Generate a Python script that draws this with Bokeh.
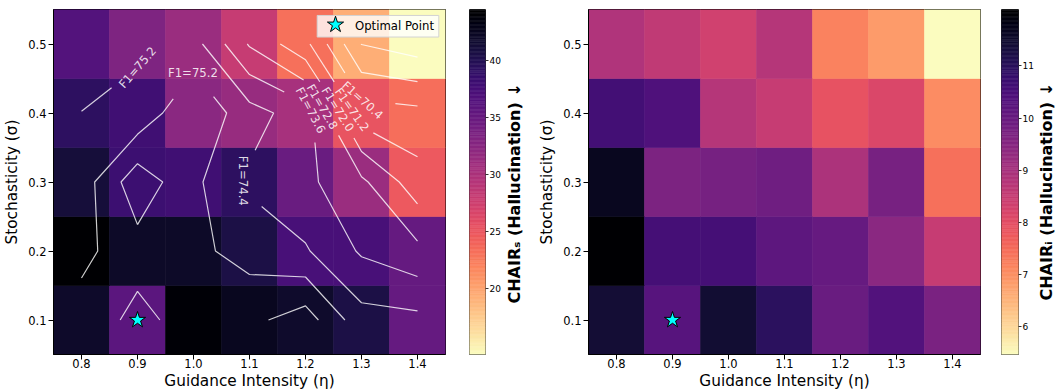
import math
import numpy as np
from bokeh.plotting import figure
from bokeh.layouts import row
from bokeh.models import (ColumnDataSource, LinearColorMapper, FixedTicker,
                          PrintfTickFormatter, Range1d)
from bokeh.palettes import Magma256
from bokeh.transform import transform
from bokeh.core.properties import value
from bokeh.embed import file_html
from bokeh.resources import INLINE

FONT = "DejaVu Sans"

# ---------------- data ----------------
eta = [0.8, 0.9, 1.0, 1.1, 1.2, 1.3, 1.4]          # guidance intensity
sigma = [0.1, 0.2, 0.3, 0.4, 0.5]                  # stochasticity

# rows: sigma 0.1 .. 0.5 ; columns: eta 0.8 .. 1.4
chair_s = [
    [42.1, 36.0, 44.2, 42.7, 41.9, 40.6, 35.3],
    [44.5, 42.2, 42.2, 40.6, 37.5, 37.5, 35.3],
    [41.2, 38.3, 38.0, 39.3, 35.0, 31.3, 24.8],
    [39.3, 38.0, 32.5, 31.5, 30.4, 25.3, 23.4],
    [36.6, 33.4, 31.3, 28.1, 23.3, 19.4, 14.2],
]
chair_i = [
    [11.42, 10.30, 11.45, 10.99, 10.00, 10.39, 9.73],
    [12.08, 10.59, 10.59, 10.20, 10.06, 9.47, 8.51],
    [11.68, 9.70, 9.80, 9.90, 8.91, 9.77, 7.45],
    [10.63, 10.43, 8.78, 8.51, 7.92, 8.18, 7.06],
    [8.87, 8.61, 8.35, 8.78, 7.19, 6.86, 5.47],
]
f1 = [
    [75.51, 76.22, 75.67, 75.80, 76.39, 74.70, 74.61],
    [75.00, 75.69, 75.40, 74.89, 74.48, 73.50, 73.01],
    [74.80, 76.50, 75.39, 74.27, 73.79, 72.97, 71.53],
    [75.19, 74.62, 75.91, 74.71, 73.99, 70.77, 70.63],
    [75.60, 75.50, 74.72, 72.72, 71.41, 68.785, 68.37],
]
f1_levels = [68.8, 69.6, 70.4, 71.2, 72.0, 72.8, 73.6, 74.4, 75.2, 76.0]
# labelled contours: level, approx eta, approx sigma, text angle (deg)
f1_labels = [
    (75.2, 0.900, 0.466, 49),
    (75.2, 1.000, 0.458, 0),
    (74.4, 1.088, 0.302, -90),
    (73.6, 1.209, 0.404, -62),
    (72.8, 1.232, 0.410, -60),
    (72.0, 1.257, 0.405, -58),
    (71.2, 1.283, 0.405, -55),
    (70.4, 1.302, 0.419, -42),
]
optimal_eta = [0.9]
optimal_sigma = [0.1]
legend_label = "Optimal Point"
cb_title_s = "CHAIR\u209b (Hallucination) \u2193"
cb_title_i = "CHAIR\u1d62 (Hallucination) \u2193"
cb_ticks_s = [20, 25, 30, 35, 40]
cb_ticks_i = [6, 7, 8, 9, 10, 11]

# ---------------- layout ----------------
H = 392
TOP, BOTTOM = 9, 36
FRAME_H = H - TOP - BOTTOM      # 347
FRAME_W = 392
LEFT = 53
X0, X1 = 0.75, 1.45
Y0, Y1 = 0.05, 0.55
SX = FRAME_W / (X1 - X0)
SY = FRAME_H / (Y1 - Y0)
PAL = list(Magma256[::-1])
TICK_FS = "11.5px"
CB_FS = "9px"
LAB_FS = "16px"


def px2data(px, py):
    """pixel offsets from the frame's top-left corner -> data coordinates"""
    return X0 + px / SX, Y1 - py / SY


def style_axis(ax, label_size=TICK_FS):
    ax.major_tick_out = 5
    ax.major_tick_in = 0
    ax.minor_tick_out = 0
    ax.minor_tick_in = 0
    ax.major_tick_line_color = "black"
    ax.axis_line_color = "black"
    ax.major_label_text_font = FONT
    ax.major_label_text_font_size = label_size
    ax.major_label_text_color = "black"
    ax.axis_label_text_font = FONT
    ax.axis_label_text_font_size = "15.3px"
    ax.axis_label_text_font_style = "normal"
    ax.axis_label_text_color = "black"


def heatmap(vals, right_border):
    vmin = min(min(r) for r in vals)
    vmax = max(max(r) for r in vals)
    mapper = LinearColorMapper(palette=PAL, low=vmin, high=vmax)
    xs, ys, zs = [], [], []
    for j, s in enumerate(sigma):
        for i, e in enumerate(eta):
            xs.append(e)
            ys.append(s)
            zs.append(vals[j][i])
    src = ColumnDataSource(dict(x=xs, y=ys, z=zs))
    p = figure(width=LEFT + FRAME_W + right_border, height=H,
               x_range=Range1d(X0, X1), y_range=Range1d(Y0, Y1),
               min_border_left=LEFT, min_border_right=right_border,
               min_border_top=TOP, min_border_bottom=BOTTOM,
               toolbar_location=None, output_backend="svg")
    dx = eta[1] - eta[0]
    dy = sigma[1] - sigma[0]
    p.rect(x="x", y="y", width=dx, height=dy, source=src,
           fill_color=transform("z", mapper), line_color=transform("z", mapper),
           line_width=0.6)
    p.grid.visible = False
    p.outline_line_color = "black"
    p.outline_line_width = 1
    p.xaxis.ticker = FixedTicker(ticks=eta)
    p.yaxis.ticker = FixedTicker(ticks=sigma)
    p.xaxis.formatter = PrintfTickFormatter(format="%.1f")
    p.yaxis.formatter = PrintfTickFormatter(format="%.1f")
    style_axis(p.xaxis[0])
    style_axis(p.yaxis[0])
    p.xaxis.major_label_standoff = -1
    p.xaxis.axis_label_standoff = 1
    p.yaxis.major_label_standoff = 2
    p.yaxis.axis_label_standoff = 4
    p.xaxis.axis_label = "Guidance Intensity (\u03b7)"
    p.yaxis.axis_label = "Stochasticity (\u03c3)"
    return p, vmin, vmax


def colorbar(vmin, vmax, ticks, left_border, right_border):
    p = figure(width=left_border + 18 + right_border, height=H,
               x_range=Range1d(0, 1), y_range=Range1d(vmin, vmax),
               min_border_left=left_border, min_border_right=right_border,
               min_border_top=TOP, min_border_bottom=BOTTOM,
               x_axis_location=None, y_axis_location="right",
               toolbar_location=None, output_backend="svg")
    edges = np.linspace(vmin, vmax, len(PAL) + 1)
    p.quad(left=0, right=1, bottom=edges[:-1], top=edges[1:],
           fill_color=PAL, line_color=PAL, line_width=0.6)
    p.grid.visible = False
    p.outline_line_color = "#333333"
    p.outline_line_width = 1
    p.yaxis.ticker = FixedTicker(ticks=ticks)
    style_axis(p.yaxis[0], CB_FS)
    p.yaxis.major_tick_out = 3
    p.yaxis.major_label_standoff = 1
    p.yaxis.axis_line_color = None
    p.yaxis.major_tick_line_color = "#333333"
    return p


def cb_label(width, title, centre_x, centre_y):
    """vertical bold colour-bar title reading bottom-to-top (centre anchored)"""
    p = figure(width=width, height=H, x_range=Range1d(0, width), y_range=Range1d(0, H),
               min_border_left=0, min_border_right=0, min_border_top=0, min_border_bottom=0,
               x_axis_location=None, y_axis_location=None,
               toolbar_location=None, output_backend="svg")
    p.grid.visible = False
    p.outline_line_color = None
    p.text(x=[centre_x], y=[H - centre_y], text=[title], angle=math.pi / 2,
           text_align="center", text_baseline="middle", text_font=value(FONT),
           text_font_size=LAB_FS, text_font_style="bold", text_color="black")
    return p


# ---------------- contours (marching squares on the F1 grid) ----------------
def march(xs, ys, Z, level):
    nx, ny = len(xs), len(ys)

    def pt(key):
        (i0, j0), (i1, j1) = key
        z0, z1 = Z[j0][i0], Z[j1][i1]
        t = (level - z0) / (z1 - z0)
        return (xs[i0] + t * (xs[i1] - xs[i0]), ys[j0] + t * (ys[j1] - ys[j0]))

    segs = []
    for j in range(ny - 1):
        for i in range(nx - 1):
            c = [(i, j), (i + 1, j), (i + 1, j + 1), (i, j + 1)]
            up = [Z[b][a] > level for a, b in c]
            ek = [tuple(sorted((c[k], c[(k + 1) % 4]))) for k in range(4)]
            cross = [k for k in range(4) if up[k] != up[(k + 1) % 4]]
            if len(cross) == 2:
                segs.append((ek[cross[0]], ek[cross[1]]))
            elif len(cross) == 4:
                centre = sum(Z[b][a] for a, b in c) / 4
                if (centre > level) == up[0]:
                    segs += [(ek[0], ek[1]), (ek[2], ek[3])]
                else:
                    segs += [(ek[3], ek[0]), (ek[1], ek[2])]
    adj = {}
    for n, (a, b) in enumerate(segs):
        adj.setdefault(a, []).append(n)
        adj.setdefault(b, []).append(n)
    used = [False] * len(segs)

    def walk(key, n):
        keys = [key]
        cur = key
        while n is not None and not used[n]:
            used[n] = True
            a, b = segs[n]
            cur = b if a == cur else a
            keys.append(cur)
            n = next((m for m in adj[cur] if not used[m]), None)
        return keys

    paths = []
    for key, ns in adj.items():
        if len(ns) == 1 and not used[ns[0]]:
            paths.append(walk(key, ns[0]))
    for n in range(len(segs)):
        if not used[n]:
            paths.append(walk(segs[n][0], n))
    return [[pt(k) for k in p] for p in paths]


def locate(path, target):
    P = [(x * SX, y * SY) for x, y in path]
    tp = (target[0] * SX, target[1] * SY)
    cum = [0.0]
    for a, b in zip(P, P[1:]):
        cum.append(cum[-1] + math.dist(a, b))
    best = (1e18, 0.0)
    for k, (a, b) in enumerate(zip(P, P[1:])):
        L = math.dist(a, b)
        if L == 0:
            continue
        t = ((tp[0] - a[0]) * (b[0] - a[0]) + (tp[1] - a[1]) * (b[1] - a[1])) / L ** 2
        t = max(0.0, min(1.0, t))
        q = (a[0] + t * (b[0] - a[0]), a[1] + t * (b[1] - a[1]))
        d = math.dist(q, tp)
        if d < best[0]:
            best = (d, cum[k] + t * L)
    return best[0], best[1], cum


def point_at(path, cum, s):
    for k in range(len(path) - 1):
        if cum[k + 1] >= s or k == len(path) - 2:
            L = cum[k + 1] - cum[k]
            t = 0 if L == 0 else (s - cum[k]) / L
            t = max(0.0, min(1.0, t))
            a, b = path[k], path[k + 1]
            return (a[0] + t * (b[0] - a[0]), a[1] + t * (b[1] - a[1]))


GAP = 33  # half gap (px) left open around each inline label
contours = {lv: march(eta, sigma, f1, lv) for lv in f1_levels}
lab_x, lab_y, lab_t, lab_a = [], [], [], []
for lv, lx, ly, ang in f1_labels:
    paths = contours[lv]
    cands = [(locate(p, (lx, ly)), n) for n, p in enumerate(paths)]
    (d, s0, cum), n = min(cands, key=lambda c: c[0][0])
    path = paths[n]
    anchor = point_at(path, cum, s0)
    pieces = []
    if s0 - GAP > 0:
        pieces.append([q for q, c in zip(path, cum) if c < s0 - GAP] + [point_at(path, cum, s0 - GAP)])
    if s0 + GAP < cum[-1]:
        pieces.append([point_at(path, cum, s0 + GAP)] + [q for q, c in zip(path, cum) if c > s0 + GAP])
    paths[n:n + 1] = pieces
    lab_x.append(anchor[0])
    lab_y.append(anchor[1])
    lab_t.append("F1=%.1f" % lv)
    lab_a.append(ang)

cxs, cys = [], []
for lv in f1_levels:
    for p in contours[lv]:
        if len(p) >= 2:
            cxs.append([q[0] for q in p])
            cys.append([q[1] for q in p])

# ---------------- figures ----------------
pA, vminA, vmaxA = heatmap(chair_s, 16)               # page 0..461
pA.multi_line(xs=cxs, ys=cys, line_color="white", line_alpha=0.8, line_width=1.2)
pA.text(x=lab_x, y=lab_y, text=lab_t, angle=lab_a, angle_units="deg",
        text_align="center", text_baseline="middle", text_font=value(FONT),
        text_font_size="11.7px", text_color="white", text_alpha=0.85)
pA.scatter(optimal_eta, optimal_sigma, marker="star", size=17,
           fill_color="cyan", line_color="black", line_width=1)

# legend box (drawn with glyphs so the marker keeps its full size)
bx0, by0 = px2data(FRAME_W - 128.3, 6.0)
bx1, by1 = px2data(FRAME_W - 6.7, 27.7)
pA.quad(left=[bx0], right=[bx1], top=[by0], bottom=[by1], fill_color="white",
        fill_alpha=0.8, line_color="#d3d3d3", line_width=1)
sx_, sy_ = px2data(FRAME_W - 110.0, 15.3)
pA.scatter([sx_], [sy_], marker="star", size=17, fill_color="cyan",
           line_color="black", line_width=1)
tx_, ty_ = px2data(FRAME_W - 90.5, 16.6)
pA.text(x=[tx_], y=[ty_], text=[legend_label], text_align="left", text_baseline="middle",
        text_font=value(FONT), text_font_size="11.7px", text_color="black")

cbA = colorbar(vminA, vmaxA, cb_ticks_s, 8, 16)      # page 461..503
lA = cb_label(32, cb_title_s, 10.5, 209)              # page 503..535

pB, vminB, vmaxB = heatmap(chair_i, 14)               # page 535..994
pB.scatter(optimal_eta, optimal_sigma, marker="star", size=17,
           fill_color="cyan", line_color="black", line_width=1)
cbB = colorbar(vminB, vmaxB, cb_ticks_i, 7, 17)       # page 994..1036
lB = cb_label(21, cb_title_i, 10.0, 207)              # page 1036..1057

layout = row(pA, cbA, lA, pB, cbB, lB)
open("out.html", "w").write(file_html(layout, INLINE))
